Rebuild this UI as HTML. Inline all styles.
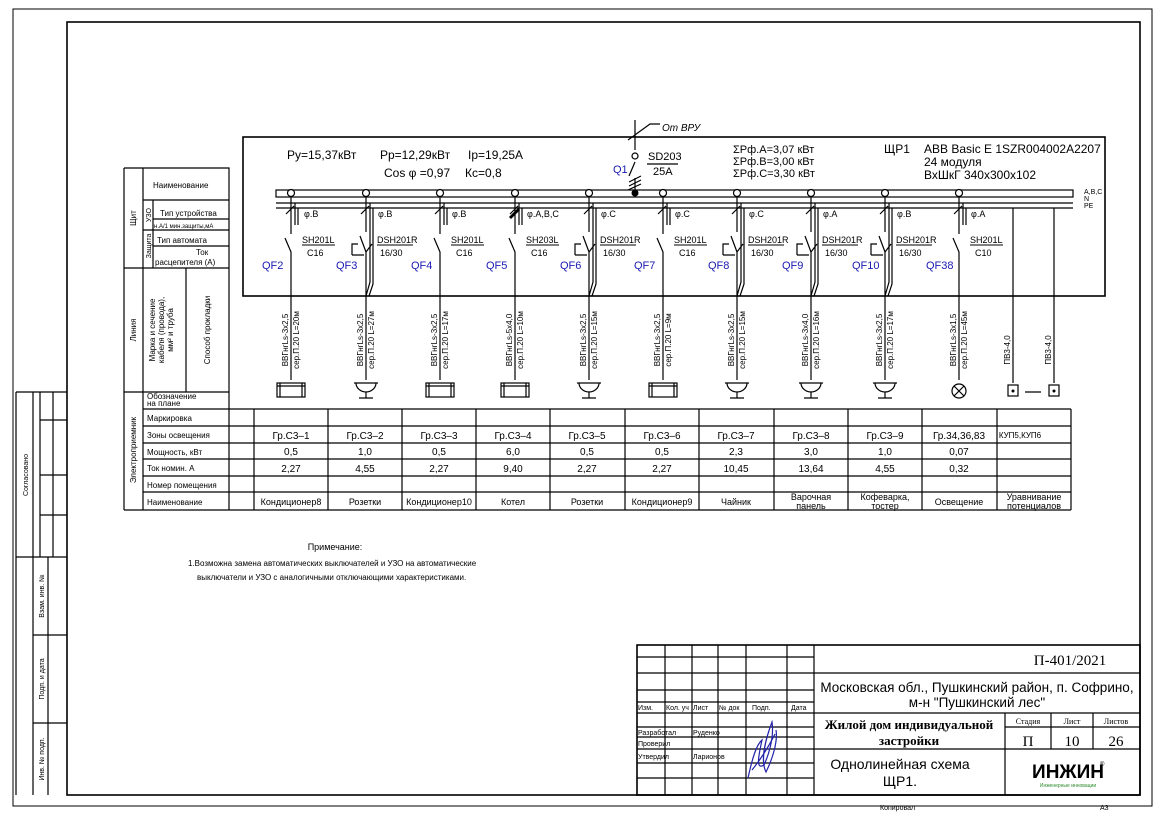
<!DOCTYPE html>
<html><head><meta charset="utf-8"><style>
html,body{margin:0;padding:0;background:#fff}
svg{display:block}
text{font-family:"Liberation Sans Narrow","Liberation Sans","DejaVu Sans",sans-serif;fill:#000}
.s{font-size:9px}
.b{fill:#1a1ab0}
.ser{font-family:"Liberation Serif",serif}
</style></head><body>
<svg width="1166" height="816" viewBox="0 0 1166 816" xmlns="http://www.w3.org/2000/svg">
<g fill="none" stroke="#000" stroke-width="1.2">
<rect x="13" y="9" width="1139" height="797" stroke-width="1"/>
<rect x="67" y="22" width="1073" height="773" stroke-width="1.6"/>
<path d="M16 392 V795 M16 392 H67 M33 392 V795 M40 392 V557 M53 392 V557 M16 557 H67 M48 557 V795 M33 635 H67 M33 723 H67 M40 420 H67 M40 475 H67 M40 515 H67"/>
<rect x="243" y="137" width="862" height="159" stroke-width="1.6"/>
<rect x="276" y="190" width="797" height="7"/>
<path d="M276 203 H1073 M276 208 H1073"/>
<path d="M635 120 V150 M635 162 L629 176 M635 178 V193 M628 140 L650 124 H660 M629 182 L641 176 M629 186 L641 180 M628 190 L641 184 M647 164 H678"/>
<circle cx="635" cy="156" r="3"/>
<path d="M124 168 H229 V510 M124 168 V510 M143 168 V510 M153 200 V268 M143 200 H229 M153 219 H229 M143 230 H229 M153 246 H229 M124 268 H229 M186 268 V392 M124 392 H229 M143 409 H1071 M143 426 H1071 M143 443 H1071 M143 459 H1071 M143 476 H1071 M143 492 H1071 M124 510 H1071 M254 409 V510 M328 409 V510 M402 409 V510 M476 409 V510 M550 409 V510 M625 409 V510 M699 409 V510 M774 409 V510 M848 409 V510 M922 409 V510 M997 409 V510 M1071 409 V510"/>
<rect x="637" y="645" width="503" height="150" stroke-width="1.6"/>
<path d="M814 645 V795 M665 645 V795 M692 645 V795 M718 645 V795 M746 645 V795 M787 645 V795 M637 657 H814 M637 673 H1140 M637 690 H814 M637 702 H814 M637 713 H1140 M637 727 H814 M637 737 H814 M637 749 H1140 M637 763 H814 M637 778 H814 M1005 713 V795 M1051 713 V749 M1093 713 V749 M1005 727 H1140"/>
<path d="M748 778 C752 760 756 745 762 740 C758 758 756 770 764 765 C770 752 774 735 772 722 C766 738 760 760 766 772 C772 760 778 742 776 730 M752 770 C760 760 768 748 775 734" stroke="#2222aa"/>
</g>
<g fill="#000"><circle cx="635" cy="193" r="3.5"/></g>

<g fill="none" stroke="#000" stroke-width="1.2">
<g fill="#fff">
<circle cx="291" cy="193" r="3.5"/><circle cx="366" cy="193" r="3.5"/><circle cx="440" cy="193" r="3.5"/><circle cx="515" cy="193" r="3.5"/><circle cx="589" cy="193" r="3.5"/><circle cx="663" cy="193" r="3.5"/><circle cx="737" cy="193" r="3.5"/><circle cx="811" cy="193" r="3.5"/><circle cx="885" cy="193" r="3.5"/><circle cx="959" cy="193" r="3.5"/>
</g>
<path d="M291 197 V234 M285 238 L291 252 V380 M286 214 L294 206 M295 203 V225 M298 208 V225"/>
<path d="M440 197 V234 M434 238 L440 252 V380 M435 214 L443 206 M444 203 V225 M447 208 V225"/>
<path d="M515 197 V234 M509 238 L515 252 V380 M510 214 L518 206 M519 203 V225 M522 208 V225" />
<path d="M510 218 L519 209" stroke-width="3"/>
<path d="M663 197 V234 M657 238 L663 252 V380 M658 214 L666 206 M667 203 V225 M670 208 V225"/>
<path d="M959 197 V234 M953 238 L959 252 V380 M954 214 L962 206 M963 203 V225 M966 208 V225"/>
<path d="M366 197 V232 M360 236 L366 252 V380 M361 214 L369 206 M370 203 V282 L366 296 M373 208 V284 L369 296 M358 244 H352 V255 M352 255 H364 M366 252 L372 244"/>
<path d="M589 197 V232 M583 236 L589 252 V380 M584 214 L592 206 M593 203 V282 L589 296 M596 208 V284 L592 296 M581 244 H575 V255 M575 255 H587 M589 252 L595 244"/>
<path d="M737 197 V232 M731 236 L737 252 V380 M732 214 L740 206 M741 203 V282 L737 296 M744 208 V284 L740 296 M729 244 H723 V255 M723 255 H735 M737 252 L743 244"/>
<path d="M811 197 V232 M805 236 L811 252 V380 M806 214 L814 206 M815 203 V282 L811 296 M818 208 V284 L814 296 M803 244 H797 V255 M797 255 H809 M811 252 L817 244"/>
<path d="M885 197 V232 M879 236 L885 252 V380 M880 214 L888 206 M889 203 V282 L885 296 M892 208 V284 L888 296 M877 244 H871 V255 M871 255 H883 M885 252 L891 244"/>
<path d="M1013 208 V383 M1054 208 V383 M1025 392 H1041"/>
<rect x="1008" y="385" width="10" height="11"/><rect x="1049" y="385" width="10" height="11"/>
<path d="M302 245 H335 M377 245 H413 M451 245 H484 M526 245 H559 M600 245 H636 M674 245 H707 M748 245 H784 M822 245 H858 M896 245 H932 M970 245 H1003" stroke-width="1"/>
<rect x="277" y="383" width="28" height="14"/><path d="M280 383 V397 M302 383 V397 M277 386 H305"/>
<rect x="426" y="383" width="28" height="14"/><path d="M429 383 V397 M451 383 V397 M426 386 H454"/>
<rect x="501" y="383" width="28" height="14"/><path d="M504 383 V397 M526 383 V397 M501 386 H529"/>
<rect x="649" y="383" width="28" height="14"/><path d="M652 383 V397 M674 383 V397 M649 386 H677"/>
<path d="M354 383 H378 M356 383 A10 9 0 0 0 376 383 M366 392 V398 M359 398 H373"/>
<path d="M577 383 H601 M579 383 A10 9 0 0 0 599 383 M589 392 V398 M582 398 H596"/>
<path d="M725 383 H749 M727 383 A10 9 0 0 0 747 383 M737 392 V398 M730 398 H744"/>
<path d="M799 383 H823 M801 383 A10 9 0 0 0 821 383 M811 392 V398 M804 398 H818"/>
<path d="M873 383 H897 M875 383 A10 9 0 0 0 895 383 M885 392 V398 M878 398 H892"/>
<circle cx="959" cy="391" r="7"/><path d="M954 386 L964 396 M964 386 L954 396"/>
</g>
<g fill="#000"><circle cx="1013" cy="391" r="1.5"/><circle cx="1054" cy="391" r="1.5"/></g>

<text x="287" y="159" font-size="12">Ру=15,37кВт</text>
<text x="380" y="159" font-size="12">Рр=12,29кВт</text>
<text x="468" y="159" font-size="12">Ip=19,25A</text>
<text x="384" y="177" font-size="12">Cos φ =0,97</text>
<text x="465" y="177" font-size="12">Кс=0,8</text>
<text x="662" y="131" font-size="10" font-style="italic">От ВРУ</text>
<text x="613" y="173" font-size="11" class="b">Q1</text>
<text x="648" y="160" font-size="11">SD203</text>
<text x="653" y="175" font-size="11">25A</text>
<text x="733" y="153" font-size="11">ΣPф.A=3,07  кВт</text>
<text x="733" y="165" font-size="11">ΣPф.B=3,00  кВт</text>
<text x="733" y="177" font-size="11">ΣPф.C=3,30  кВт</text>
<text x="884" y="153" font-size="12">ЩР1</text>
<text x="924" y="153" font-size="12">ABB Basic E  1SZR004002A2207</text>
<text x="924" y="166" font-size="12">24 модуля</text>
<text x="924" y="179" font-size="12">ВхШкГ 340х300х102</text>
<text x="1084" y="194" font-size="7">A,B,C</text>
<text x="1084" y="201" font-size="7">N</text>
<text x="1084" y="208" font-size="7">PE</text>

<g class="s">
<text x="304" y="217">φ.B</text><text x="378" y="217">φ.B</text><text x="452" y="217">φ.B</text><text x="527" y="217">φ.A,B,C</text><text x="601" y="217">φ.C</text><text x="675" y="217">φ.C</text><text x="749" y="217">φ.C</text><text x="823" y="217">φ.A</text><text x="897" y="217">φ.B</text><text x="971" y="217">φ.A</text>
<text x="302" y="243">SH201L</text><text x="377" y="243">DSH201R</text><text x="451" y="243">SH201L</text><text x="526" y="243">SH203L</text><text x="600" y="243">DSH201R</text><text x="674" y="243">SH201L</text><text x="748" y="243">DSH201R</text><text x="822" y="243">DSH201R</text><text x="896" y="243">DSH201R</text><text x="970" y="243">SH201L</text>
<text x="307" y="256">C16</text><text x="380" y="256">16/30</text><text x="456" y="256">C16</text><text x="531" y="256">C16</text><text x="603" y="256">16/30</text><text x="679" y="256">C16</text><text x="751" y="256">16/30</text><text x="825" y="256">16/30</text><text x="899" y="256">16/30</text><text x="975" y="256">C10</text>
</g>
<g font-size="11">
<text x="262" y="269" class="b">QF2</text><text x="336" y="269" class="b">QF3</text><text x="411" y="269" class="b">QF4</text><text x="486" y="269" class="b">QF5</text><text x="560" y="269" class="b">QF6</text><text x="634" y="269" class="b">QF7</text><text x="708" y="269" class="b">QF8</text><text x="782" y="269" class="b">QF9</text><text x="852" y="269" class="b">QF10</text><text x="926" y="269" class="b">QF38</text>
</g>
<g font-size="8" text-anchor="middle">
<text transform="translate(288,340) rotate(-90)">ВВГнгLs-3х2,5</text><text transform="translate(299,340) rotate(-90)">сер.П.20  L=20м</text>
<text transform="translate(363,340) rotate(-90)">ВВГнгLs-3х2,5</text><text transform="translate(374,340) rotate(-90)">сер.П.20  L=27м</text>
<text transform="translate(437,340) rotate(-90)">ВВГнгLs-3х2,5</text><text transform="translate(448,340) rotate(-90)">сер.П.20  L=17м</text>
<text transform="translate(512,340) rotate(-90)">ВВГнгLs-5х4,0</text><text transform="translate(523,340) rotate(-90)">сер.П.20  L=10м</text>
<text transform="translate(586,340) rotate(-90)">ВВГнгLs-3х2,5</text><text transform="translate(597,340) rotate(-90)">сер.П.20  L=15м</text>
<text transform="translate(660,340) rotate(-90)">ВВГнгLs-3х2,5</text><text transform="translate(671,340) rotate(-90)">сер.П.20  L=9м</text>
<text transform="translate(734,340) rotate(-90)">ВВГнгLs-3х2,5</text><text transform="translate(745,340) rotate(-90)">сер.П.20  L=15м</text>
<text transform="translate(808,340) rotate(-90)">ВВГнгLs-3х4,0</text><text transform="translate(819,340) rotate(-90)">сер.П.20  L=16м</text>
<text transform="translate(882,340) rotate(-90)">ВВГнгLs-3х2,5</text><text transform="translate(893,340) rotate(-90)">сер.П.20  L=17м</text>
<text transform="translate(956,340) rotate(-90)">ВВГнгLs-3х1,5</text><text transform="translate(967,340) rotate(-90)">сер.П.20  L=45м</text>
<text transform="translate(1010,350) rotate(-90)">ПВ3-4,0</text><text transform="translate(1051,350) rotate(-90)">ПВ3-4,0</text>
</g>

<g font-size="8">
<text x="153" y="188">Наименование</text>
<text x="160" y="216">Тип устройства</text>
<text x="154" y="228" font-size="6">н.А/1 мин.защиты,мА</text>
<text x="157" y="243">Тип автомата</text>
<text x="196" y="255">Ток</text>
<text x="155" y="265">расцепителя  (А)</text>
<text transform="translate(136,218) rotate(-90)" text-anchor="middle">Щит</text>
<text transform="translate(151,215) rotate(-90)" text-anchor="middle" font-size="7">УЗО</text>
<text transform="translate(151,246) rotate(-90)" text-anchor="middle" font-size="7">Защита</text>
<text transform="translate(136,330) rotate(-90)" text-anchor="middle">Линия</text>
<text transform="translate(155,330) rotate(-90)" text-anchor="middle">Марка  и сечение</text>
<text transform="translate(164,330) rotate(-90)" text-anchor="middle">кабеля  (провода),</text>
<text transform="translate(173,330) rotate(-90)" text-anchor="middle">мм² и  труба</text>
<text transform="translate(210,330) rotate(-90)" text-anchor="middle">Способ  прокладки</text>
<text transform="translate(136,450) rotate(-90)" text-anchor="middle">Электроприемник</text>
<text x="147" y="399">Обозначение</text>
<text x="147" y="406">на плане</text>
<text x="147" y="421">Маркировка</text>
<text x="147" y="438">Зоны освещения</text>
<text x="147" y="455">Мощность, кВт</text>
<text x="147" y="471">Ток номин. А</text>
<text x="147" y="488">Номер помещения</text>
<text x="147" y="505">Наименование</text>
</g>
<g font-size="10" text-anchor="middle">
<text x="291" y="439">Гр.С3–1</text><text x="365" y="439">Гр.С3–2</text><text x="439" y="439">Гр.С3–3</text><text x="513" y="439">Гр.С3–4</text><text x="587" y="439">Гр.С3–5</text><text x="662" y="439">Гр.С3–6</text><text x="736" y="439">Гр.С3–7</text><text x="811" y="439">Гр.С3–8</text><text x="885" y="439">Гр.С3–9</text><text x="959" y="439">Гр.34,36,83</text><text x="1020" y="438" font-size="8">КУП5,КУП6</text>
<text x="291" y="455">0,5</text><text x="365" y="455">1,0</text><text x="439" y="455">0,5</text><text x="513" y="455">6,0</text><text x="587" y="455">0,5</text><text x="662" y="455">0,5</text><text x="736" y="455">2,3</text><text x="811" y="455">3,0</text><text x="885" y="455">1,0</text><text x="959" y="455">0,07</text>
<text x="291" y="472">2,27</text><text x="365" y="472">4,55</text><text x="439" y="472">2,27</text><text x="513" y="472">9,40</text><text x="587" y="472">2,27</text><text x="662" y="472">2,27</text><text x="736" y="472">10,45</text><text x="811" y="472">13,64</text><text x="885" y="472">4,55</text><text x="959" y="472">0,32</text>
</g>
<g font-size="9" text-anchor="middle">
<text x="291" y="505">Кондиционер8</text><text x="365" y="505">Розетки</text><text x="439" y="505">Кондиционер10</text><text x="513" y="505">Котел</text><text x="587" y="505">Розетки</text><text x="662" y="505">Кондиционер9</text><text x="736" y="505">Чайник</text><text x="811" y="500">Варочная</text><text x="811" y="509">панель</text><text x="885" y="500">Кофеварка,</text><text x="885" y="509">тостер</text><text x="959" y="505">Освещение</text><text x="1034" y="500">Уравнивание</text><text x="1034" y="509">потенциалов</text>
</g>

<text x="335" y="550" font-size="9" text-anchor="middle">Примечание:</text>
<text x="188" y="566" font-size="8">1.Возможна замена автоматических выключателей и УЗО на автоматические</text>
<text x="197" y="580" font-size="8">выключатели и УЗО с аналогичными отключающими характеристиками.</text>

<g font-size="7" class="ser">
<text transform="translate(28,475) rotate(-90)" text-anchor="middle">Согласовано</text>
<text transform="translate(44,596) rotate(-90)" text-anchor="middle">Взам. инв. №</text>
<text transform="translate(44,679) rotate(-90)" text-anchor="middle">Подп. и дата</text>
<text transform="translate(44,759) rotate(-90)" text-anchor="middle">Инв. № подп.</text>
</g>

<g class="ser" font-size="7">
<text x="638" y="710">Изм.</text><text x="666" y="710">Кол. уч</text><text x="693" y="710">Лист</text><text x="719" y="710">№ док</text><text x="752" y="710">Подп.</text><text x="791" y="710">Дата</text>
<text x="638" y="735">Разработал</text><text x="693" y="735">Руденко</text>
<text x="638" y="746">Проверил</text>
<text x="638" y="759">Утвердил</text><text x="693" y="759">Ларионов</text>
<text x="880" y="810">Копировал</text><text x="1100" y="810">А3</text>
</g>
<text x="1070" y="665" font-size="15" class="ser" text-anchor="middle">П-401/2021</text>
<text x="977" y="692" font-size="13.5" text-anchor="middle" font-family="Liberation Sans">Московская обл., Пушкинский район, п. Софрино,</text>
<text x="977" y="707" font-size="13.5" text-anchor="middle" font-family="Liberation Sans">м-н "Пушкинский лес"</text>
<text x="909" y="729" font-size="13" class="ser" text-anchor="middle" font-weight="bold">Жилой дом индивидуальной</text>
<text x="909" y="745" font-size="13" class="ser" text-anchor="middle" font-weight="bold">застройки</text>
<text x="1028" y="724" font-size="8" class="ser" text-anchor="middle">Стадия</text><text x="1072" y="724" font-size="8" class="ser" text-anchor="middle">Лист</text><text x="1116" y="724" font-size="8" class="ser" text-anchor="middle">Листов</text>
<text x="1028" y="746" font-size="15" class="ser" text-anchor="middle">П</text><text x="1072" y="746" font-size="15" class="ser" text-anchor="middle">10</text><text x="1116" y="746" font-size="15" class="ser" text-anchor="middle">26</text>
<text x="900" y="769" font-size="14" text-anchor="middle" font-family="Liberation Sans">Однолинейная схема</text>
<text x="900" y="786" font-size="14" text-anchor="middle" font-family="Liberation Sans">ЩР1.</text>
<text x="1068" y="778" font-size="19" font-weight="bold" text-anchor="middle" font-family="Liberation Sans">ИНЖИН</text>
<text x="1100" y="766" font-size="6">®</text>
<text x="1068" y="787" font-size="5" text-anchor="middle" style="fill:#2a8a2a">Инженерные инновации</text>
</svg>
</body></html>
